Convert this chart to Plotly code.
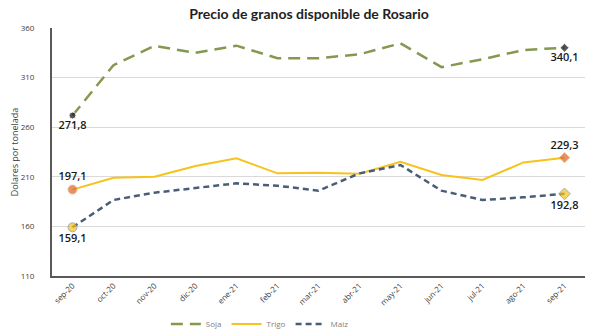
import plotly.graph_objects as go

meses = ["sep-20", "oct-20", "nov-20", "dic-20", "ene-21", "feb-21", "mar-21",
         "abr-21", "may-21", "jun-21", "jul-21", "ago-21", "sep-21"]
soja = [271.8, 322.5, 342.0, 335.0, 342.2, 329.5, 329.5, 333.5, 344.6, 320.5, 328.5, 337.8, 340.1]
trigo = [197.1, 209.1, 210.1, 220.9, 228.6, 213.5, 214.1, 213.0, 225.2, 211.8, 206.8, 224.5, 229.3]
maiz = [159.1, 186.6, 194.0, 199.0, 203.4, 201.0, 196.0, 213.5, 221.9, 196.0, 186.6, 189.3, 192.8]

C_SOJA = "#84994f"
C_TRIGO = "#f7c21c"
C_MAIZ = "#4a5d78"
LABEL_FONT = dict(family="Open Sans, DejaVu Sans, sans-serif", size=11, color="#1a1a1a",
                  weight=600)


def fmt(v):
    return f"{v:.1f}".replace(".", ",")


fig = go.Figure()

fig.add_trace(go.Scatter(x=meses, y=soja, name="Soja", mode="lines",
                         line=dict(color=C_SOJA, width=2.5, dash="12px,7px")))
fig.add_trace(go.Scatter(x=meses, y=trigo, name="Trigo", mode="lines",
                         line=dict(color=C_TRIGO, width=2)))
fig.add_trace(go.Scatter(x=meses, y=maiz, name="Maiz", mode="lines",
                         line=dict(color=C_MAIZ, width=2.5, dash="6px,4px")))

# endpoint markers with value labels
ends = [meses[0], meses[-1]]
fig.add_trace(go.Scatter(
    x=ends, y=[soja[0], soja[-1]], mode="markers+text", showlegend=False,
    marker=dict(color="#111111", size=[7, 7], symbol=["circle", "diamond"]),
    text=[fmt(soja[0]), fmt(soja[-1])], textposition=["bottom center", "bottom center"],
    textfont=LABEL_FONT, cliponaxis=False))
fig.add_trace(go.Scatter(
    x=ends, y=[trigo[0], trigo[-1]], mode="markers+text", showlegend=False,
    marker=dict(color="#dc6428", size=[9, 8], symbol=["circle", "diamond"],
                line=dict(color="#e8a070", width=1)),
    text=[fmt(trigo[0]), fmt(trigo[-1])], textposition=["top center", "top center"],
    textfont=LABEL_FONT, cliponaxis=False))
fig.add_trace(go.Scatter(
    x=ends, y=[maiz[0], maiz[-1]], mode="markers+text", showlegend=False,
    marker=dict(color="#f2c21e", size=[9, 9], symbol=["circle", "diamond"],
                line=dict(color="#8a8a8a", width=1)),
    text=[fmt(maiz[0]), fmt(maiz[-1])], textposition=["bottom center", "bottom center"],
    textfont=LABEL_FONT, cliponaxis=False))

fig.update_layout(
    width=612, height=335,
    margin=dict(l=52, r=27, t=28, b=59, autoexpand=False),
    paper_bgcolor="white", plot_bgcolor="white",
    font=dict(family="Open Sans, DejaVu Sans, sans-serif", color="#404040"),
    title=dict(text="<b>Precio de granos disponible de Rosario</b>",
               x=0.505, xanchor="center", y=0.957, yanchor="middle",
               font=dict(family="Lato, DejaVu Sans, sans-serif", size=14, color="#222222")),
    showlegend=True,
    legend=dict(orientation="h", x=0.39, xanchor="center", y=-0.194, yanchor="middle",
                font=dict(size=8, color="#808080"), itemwidth=30, tracegroupgap=0,
                bgcolor="rgba(0,0,0,0)"),
    xaxis=dict(type="category", range=[-0.5, 12.5], tickangle=-45, automargin=False,
               tickfont=dict(size=8, color="#404040"), showgrid=False,
               showline=True, linecolor="#595959", linewidth=2, ticks="", zeroline=False),
    yaxis=dict(range=[110, 360], dtick=50, tick0=110, automargin=False,
               tickfont=dict(size=8, color="#404040"), showgrid=True, gridcolor="#d9d9d9",
               gridwidth=1, showline=True, linecolor="#595959", linewidth=2, ticks="",
               zeroline=False, ticklabelstandoff=14,
               title=dict(text="Dolares por tonelada", font=dict(size=9, color="#404040"),
                          standoff=0)),
)

fig.write_html("out.html")
